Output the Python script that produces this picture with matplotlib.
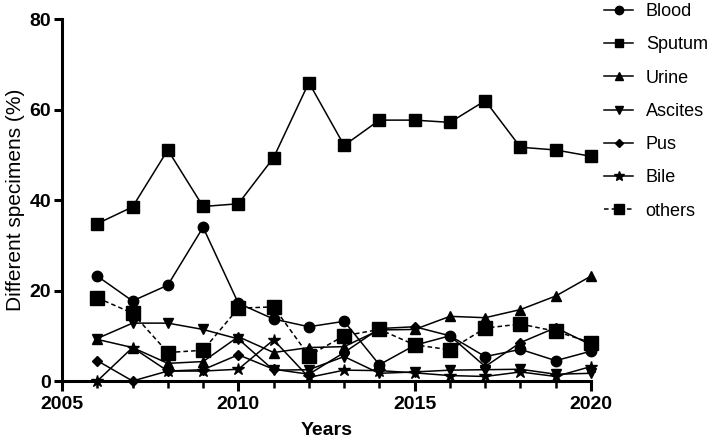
import matplotlib
matplotlib.use("Agg")
import matplotlib.pyplot as plt
from matplotlib.ticker import MultipleLocator

plt.rcParams['font.family'] = ['Liberation Sans', 'DejaVu Sans']

years = [2006, 2007, 2008, 2009, 2010, 2011, 2012, 2013, 2014, 2015, 2016, 2017, 2018, 2019, 2020]
blood = [23.2, 17.7, 21.2, 34.0, 17.2, 13.7, 12.0, 13.2, 3.6, 7.9, 10.0, 5.4, 7.0, 4.5, 6.6]
sputum = [34.8, 38.5, 51.1, 38.6, 39.2, 49.4, 66.0, 52.1, 57.7, 57.7, 57.2, 62.0, 51.7, 51.1, 49.7]
urine = [9.2, 7.4, 3.9, 4.3, 9.8, 6.3, 7.4, 7.6, 11.3, 11.4, 14.3, 14.0, 15.8, 18.8, 23.2]
ascites = [9.4, 12.8, 12.8, 11.4, 9.3, 2.4, 2.5, 5.4, 1.7, 2.0, 2.4, 2.5, 2.6, 1.5, 1.7]
pus = [4.5, 0.0, 2.2, 2.5, 5.8, 2.6, 1.5, 6.3, 11.6, 12.0, 10.0, 3.2, 8.5, 11.8, 8.0]
bile = [0.0, 7.4, 2.2, 2.2, 2.6, 9.1, 0.8, 2.4, 2.3, 1.8, 1.2, 1.0, 2.0, 1.0, 3.2]
others = [18.4, 15.0, 6.3, 6.8, 16.1, 16.4, 5.6, 10.0, 11.4, 8.0, 6.9, 11.7, 12.6, 11.0, 8.5]

series = [
    ("Blood", blood, "o", "-", 7.5),
    ("Sputum", sputum, "s", "-", 8),
    ("Urine", urine, "^", "-", 7.5),
    ("Ascites", ascites, "v", "-", 7.5),
    ("Pus", pus, "D", "-", 5.5),
    ("Bile", bile, "*", "-", 9),
    ("others", others, "s", (0, (3, 2)), 9.5),
]

fig = plt.figure(figsize=(7.14, 4.45), dpi=100)
ax = fig.add_axes([62/714, 1-381/445, (591-62)/714, (381-19.3)/445])

for name, vals, mk, ls, ms in series:
    ax.plot(years, vals, color='black', marker=mk, linestyle=ls, linewidth=1.1,
            markersize=ms, label=name, clip_on=False, zorder=3)

ax.set_xlim(2005, 2020)
ax.set_ylim(0, 80)
ax.xaxis.set_major_locator(MultipleLocator(5))
ax.xaxis.set_minor_locator(MultipleLocator(1))
ax.yaxis.set_major_locator(MultipleLocator(20))

for s in ['top', 'right']:
    ax.spines[s].set_visible(False)
for s in ['left', 'bottom']:
    ax.spines[s].set_linewidth(2.2)

ax.tick_params(axis='x', which='major', direction='out', length=7, width=2.2,
               labelsize=14, pad=4)
ax.tick_params(axis='x', which='minor', direction='out', length=5, width=1.8)
ax.tick_params(axis='y', which='major', direction='out', length=6, width=2.2,
               labelsize=14, pad=2)
for lab in ax.get_xticklabels() + ax.get_yticklabels():
    lab.set_fontweight('bold')

ax.set_xlabel("Years", fontsize=14, fontweight='bold', labelpad=6)
ax.set_ylabel("Different specimens (%)", fontsize=15, labelpad=3)

leg = ax.legend(loc='upper left', bbox_to_anchor=(597/714, 1.009), bbox_transform=fig.transFigure,
                frameon=False, fontsize=13, handlelength=1.6, handletextpad=0.7,
                labelspacing=0.9, borderaxespad=0.0, markerscale=0.8)

fig.savefig("out.png", dpi=100)
